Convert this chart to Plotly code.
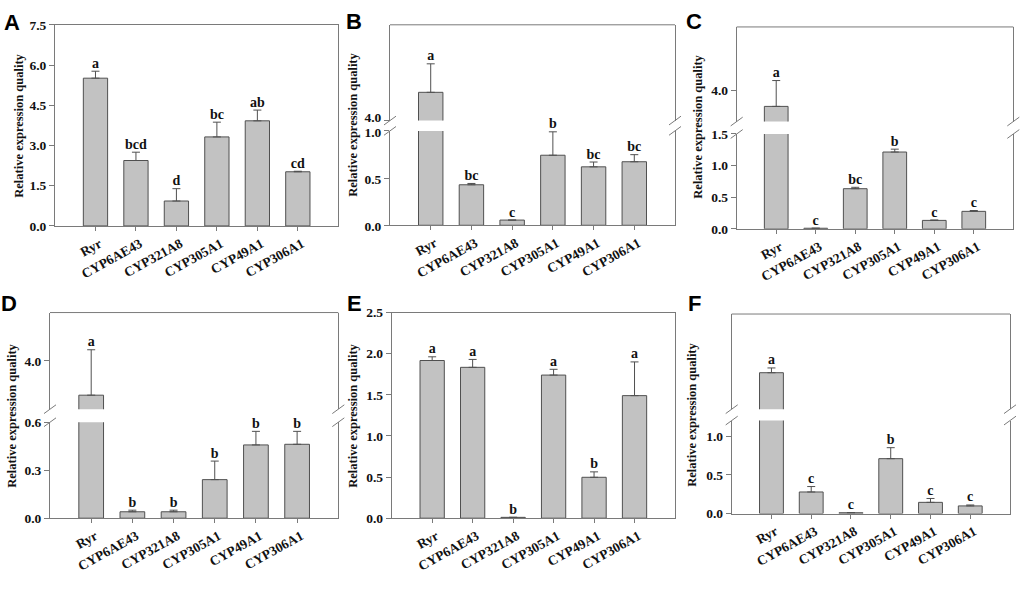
import plotly.graph_objects as go

# ---------------- data ----------------
genes = ["Ryr", "CYP6AE43", "CYP321A8", "CYP305A1", "CYP49A1", "CYP306A1"]

a_vals = [5.51, 2.44, 0.93, 3.32, 3.92, 2.02]
a_err = [0.26, 0.31, 0.46, 0.55, 0.40, 0.02]
a_sig = ["a", "bcd", "d", "bc", "ab", "cd"]

b_vals = [5.18, 0.429, 0.055, 0.742, 0.619, 0.673]
b_err = [1.19, 0.014, 0.0, 0.248, 0.051, 0.075]
b_sig = ["a", "bc", "c", "b", "bc", "bc"]

c_vals = [3.48, 0.01, 0.635, 1.215, 0.134, 0.277]
c_err = [0.82, 0.0, 0.022, 0.045, 0.006, 0.013]
c_sig = ["a", "c", "bc", "b", "c", "c"]

d_vals = [2.58, 0.04, 0.04, 0.241, 0.458, 0.462]
d_err = [1.88, 0.01, 0.01, 0.116, 0.085, 0.081]
d_sig = ["a", "b", "b", "b", "b", "b"]

e_vals = [1.917, 1.834, 0.01, 1.74, 0.497, 1.49]
e_err = [0.045, 0.096, 0.0, 0.07, 0.066, 0.41]
e_sig = ["a", "a", "b", "a", "b", "a"]

f_vals = [1.89, 0.278, 0.01, 0.708, 0.144, 0.098]
f_err = [0.09, 0.07, 0.0, 0.142, 0.05, 0.012]
f_sig = ["a", "c", "c", "b", "c", "c"]

# y tick labels (lower / upper segments)
a_ticks = [0.0, 1.5, 3.0, 4.5, 6.0, 7.5]
b_ticks_low, b_ticks_up = [0.0, 0.5, 1.0], [4.0]
c_ticks_low, c_ticks_up = [0.0, 0.5, 1.0, 1.5], [4.0]
d_ticks_low, d_ticks_up = [0.0, 0.3, 0.6], [4.0]
e_ticks = [0.0, 0.5, 1.0, 1.5, 2.0, 2.5]
f_ticks_low, f_ticks_up = [0.0, 0.5, 1.0], []

y_title = "Relative expression quality"

# ---------------- style ----------------
W, H = 1024, 595
SERIF = "Liberation Serif"
SANS = "Liberation Sans"
BAR_FILL = "#c2c2c2"
BAR_LINE = "#505050"
AXIS = "#7a7a7a"
TXT = "#111111"

fig = go.Figure()
layout = {}
shapes = []
annotations = []
cnt = {"x": 0, "y": 0}


def px_x(p):
    return p / W


def px_y(p):
    return 1 - p / H


def new_axis(kind):
    cnt[kind] += 1
    i = cnt[kind]
    return (kind if i == 1 else f"{kind}{i}"), (f"{kind}axis" if i == 1 else f"{kind}axis{i}")


def add_panel(label, vals, errs, sigs, xbox, segs, label_xy, title_xy):
    xref, xkey = new_axis("x")
    broken = len(segs) > 1
    yrefs = []
    for k, s in enumerate(segs):
        yref, ykey = new_axis("y")
        yrefs.append(yref)
        layout[ykey] = dict(
            domain=[px_y(s["bottom"]), px_y(s["top"])], range=s["range"], anchor=xref,
            tickvals=s["ticks"], ticktext=[f"{t:.1f}" for t in s["ticks"]],
            ticks="outside" if s["ticks"] else "", ticklen=5, tickwidth=1, tickcolor=AXIS,
            showline=True, linecolor=AXIS, linewidth=1, mirror=True,
            showgrid=False, zeroline=False, fixedrange=True,
            ticklabelshift=s.get("shift", 0),
            tickfont=dict(family=SERIF, size=13.5, color=TXT, weight="bold"),
        )
    layout[xkey] = dict(
        domain=[px_x(xbox[0]), px_x(xbox[1])], range=[-1, len(genes)], anchor=yrefs[0],
        tickmode="array", tickvals=list(range(len(genes))), ticktext=genes, tickangle=-29,
        ticks="outside", ticklen=4, tickwidth=1, tickcolor=AXIS,
        showline=True, linecolor=AXIS, linewidth=1, mirror=not broken,
        showgrid=False, zeroline=False, fixedrange=True, ticklabelshift=4,
        tickfont=dict(family=SERIF, size=13.5, color=TXT, weight="bold"),
    )
    idx = list(range(len(genes)))
    tops = [v + e for v, e in zip(vals, errs)]
    prev_hi = None
    for k, (s, yref) in enumerate(zip(segs, yrefs)):
        fig.add_trace(go.Bar(
            x=idx, y=vals, width=0.6,
            marker=dict(color=BAR_FILL, line=dict(color=BAR_LINE, width=1)),
            error_y=dict(type="data", symmetric=False, array=errs, arrayminus=[0] * len(vals),
                         color=BAR_LINE, thickness=1, width=4),
            xaxis=xref, yaxis=yref, showlegend=False, hoverinfo="skip",
        ))
        hi = s["range"][1]
        last = k == len(segs) - 1
        sel = [i for i, t in enumerate(tops)
               if (prev_hi is None or t > prev_hi) and (last or t <= hi)]
        prev_hi = hi
        if sel:
            fig.add_trace(go.Scatter(
                x=[idx[i] for i in sel], y=[tops[i] for i in sel], text=[sigs[i] for i in sel],
                mode="text", textposition="top center", cliponaxis=False,
                textfont=dict(family=SERIF, size=14, color=TXT, weight="bold"),
                xaxis=xref, yaxis=yref, showlegend=False, hoverinfo="skip",
            ))
    if broken:
        top = segs[-1]["top"]
        shapes.append(dict(type="line", xref="paper", yref="paper",
                           x0=px_x(xbox[0]), x1=px_x(xbox[1]), y0=px_y(top), y1=px_y(top),
                           line=dict(color=AXIS, width=1)))
        for yb in (segs[0]["top"], segs[1]["bottom"]):
            for xb in xbox:
                shapes.append(dict(type="line", xref="paper", yref="paper",
                                   x0=px_x(xb - 6), x1=px_x(xb + 6),
                                   y0=px_y(yb + 4.5), y1=px_y(yb - 4.5),
                                   line=dict(color=AXIS, width=1)))
    annotations.append(dict(text=label, x=px_x(label_xy[0]), y=px_y(label_xy[1]),
                            xref="paper", yref="paper", showarrow=False,
                            xanchor="center", yanchor="middle",
                            font=dict(family=SANS, size=22, color="#000000", weight="bold")))
    annotations.append(dict(text=y_title, x=px_x(title_xy[0]), y=px_y(title_xy[1]),
                            xref="paper", yref="paper", showarrow=False, textangle=-90,
                            xanchor="center", yanchor="middle",
                            font=dict(family=SERIF, size=12.5, color=TXT, weight="bold")))


add_panel("A", a_vals, a_err, a_sig, (55, 338.3),
          [dict(bottom=225, top=18.3, range=[0, 7.5], ticks=a_ticks)],
          (12, 16), (19, 122))
add_panel("B", b_vals, b_err, b_sig, (390, 675),
          [dict(bottom=224.3, top=127.3, range=[0, 1.0], ticks=b_ticks_low, shift=1),
           dict(bottom=116.7, top=18.3, range=[4, 8], ticks=b_ticks_up, shift=-3)],
          (354, 15), (353, 121))
add_panel("C", c_vals, c_err, c_sig, (736.7, 1013.3),
          [dict(bottom=228, top=130.5, range=[0, 1.5], ticks=c_ticks_low),
           dict(bottom=117.7, top=20.5, range=[3, 6], ticks=c_ticks_up)],
          (694, 15), (698, 123))
add_panel("D", d_vals, d_err, d_sig, (50, 338.3),
          [dict(bottom=525.3, top=426.7, range=[0, 0.6], ticks=d_ticks_low),
           dict(bottom=413.3, top=314, range=[2, 6], ticks=d_ticks_up)],
          (9, 305), (12, 420))
add_panel("E", e_vals, e_err, e_sig, (391.7, 675),
          [dict(bottom=525.3, top=314, range=[0, 2.5], ticks=e_ticks)],
          (354, 305), (353, 420))
add_panel("F", f_vals, f_err, f_sig, (731.7, 1010),
          [dict(bottom=520.5, top=425, range=[0, 1.2], ticks=f_ticks_low),
           dict(bottom=413.3, top=315.5, range=[1.2, 3.0], ticks=f_ticks_up)],
          (694, 305), (692, 419))

fig.update_layout(
    width=W, height=H, autosize=False,
    margin=dict(l=0, r=0, t=0, b=0),
    paper_bgcolor="white", plot_bgcolor="white",
    shapes=shapes, annotations=annotations,
    bargap=0.4, showlegend=False,
    **layout,
)

fig.write_html("out.html", config={"displayModeBar": False},
               post_script="document.body.style.margin='0';")
